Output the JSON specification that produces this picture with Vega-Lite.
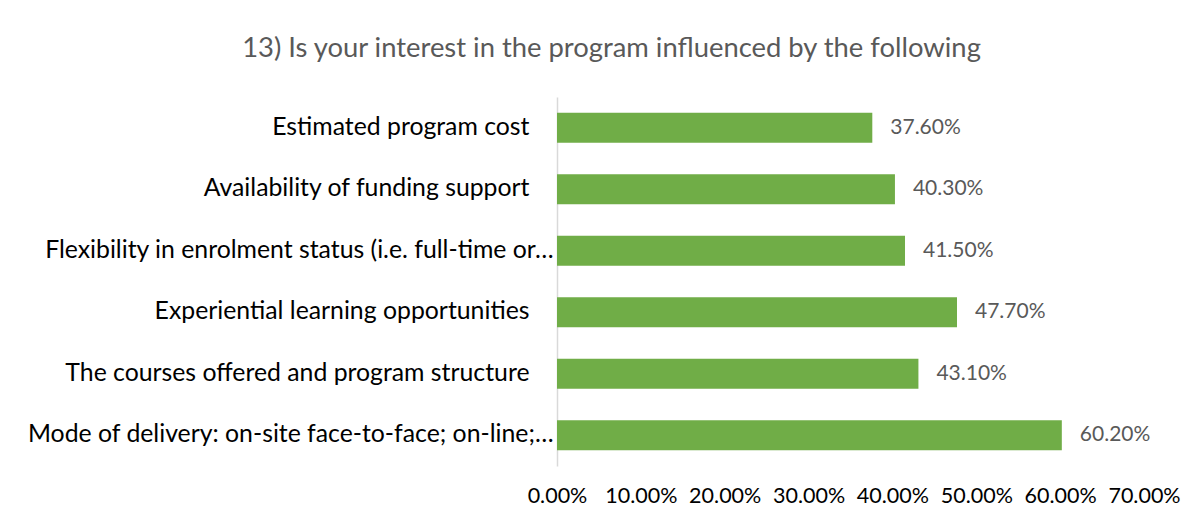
{
  "$schema": "https://vega.github.io/schema/vega-lite/v6.json",
  "width": 587,
  "height": 369,
  "autosize": "none",
  "padding": {"left": 557, "top": 97, "right": 60, "bottom": 56},
  "background": "white",
  "config": {"view": {"stroke": null}, "font": "Lato"},
  "title": {
    "text": "13) Is your interest in the program influenced by the following",
    "fontSize": 27.4,
    "fontWeight": "normal",
    "color": "#595959",
    "font": "Lato",
    "anchor": "middle",
    "dx": -239,
    "offset": 35
  },
  "data": {
    "values": [
      {"item": "Estimated program cost", "pct": 0.376},
      {"item": "Availability of funding support", "pct": 0.403},
      {"item": "Flexibility in enrolment status (i.e. full-time or…", "pct": 0.415},
      {"item": "Experiential learning opportunities", "pct": 0.477},
      {"item": "The courses offered and program structure", "pct": 0.431},
      {"item": "Mode of delivery: on-site face-to-face; on-line;…", "pct": 0.602}
    ]
  },
  "encoding": {
    "y": {
      "field": "item",
      "type": "nominal",
      "sort": null,
      "title": null,
      "scale": {"paddingInner": 0.51, "paddingOuter": 0.255},
      "axis": {
        "domainColor": "#d9d9d9",
        "domainWidth": 1.5,
        "ticks": false,
        "labelFontSize": 24.8,
        "labelColor": "#000000",
        "labelLimit": 700,
        "labelPadding": {"condition": {"test": "indexof(datum.label, '…') >= 0", "value": 4}, "value": 28}
      }
    }
  },
  "layer": [
    {
      "mark": {"type": "bar", "color": "#70AD47"},
      "encoding": {
        "x": {
          "field": "pct",
          "type": "quantitative",
          "title": null,
          "scale": {"domain": [0, 0.7], "nice": false},
          "axis": {
            "format": ".2%",
            "values": [0, 0.1, 0.2, 0.3, 0.4, 0.5, 0.6, 0.7],
            "domain": false,
            "ticks": false,
            "grid": false,
            "labelFontSize": 21.5,
            "labelColor": "#000000",
            "labelPadding": 19,
            "labelFlush": false
          }
        }
      }
    },
    {
      "mark": {"type": "text", "align": "left", "dx": 18, "fontSize": 21, "color": "#595959"},
      "encoding": {
        "x": {"field": "pct", "type": "quantitative"},
        "text": {"field": "pct", "type": "quantitative", "format": ".2%"}
      }
    }
  ]
}
